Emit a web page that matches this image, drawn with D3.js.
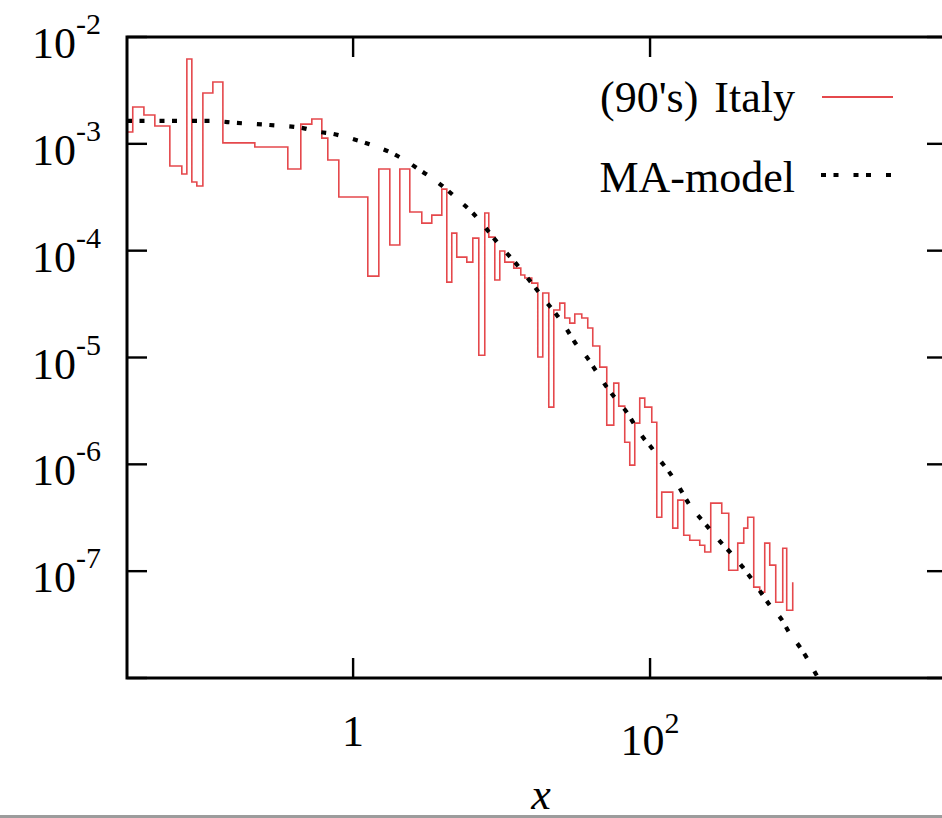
<!DOCTYPE html>
<html>
<head>
<meta charset="utf-8">
<script src="https://cdn.jsdelivr.net/npm/d3@7"></script>
<style>
  html, body { margin: 0; padding: 0; background: #fff; }
  svg { display: block; font-family: "Liberation Serif", "Times New Roman", serif; }
</style>
</head>
<body>
<script>
// ---------- data ----------
// histogram step positions (left bin edges, last entry = end of the path)
const stepX = [0.03, 0.0328, 0.0390, 0.0462, 0.0583, 0.0702, 0.0759, 0.0820, 0.0886, 0.0973,
  0.1136, 0.1327, 0.2178, 0.3633, 0.4444, 0.5271, 0.6155, 0.6755, 0.8012, 1.256,
  1.490, 1.767, 2.063, 2.409, 2.901, 3.388, 3.957, 4.276, 4.619, 4.991,
  5.832, 6.400, 7.023, 7.706, 8.199, 9.000, 9.725, 10.51, 12.08, 13.47,
  14.33, 15.97, 17.53, 18.94, 20.79, 22.47, 24.66, 26.65, 28.79, 31.12,
  34.68, 38.06, 41.13, 45.85, 51.10, 56.96, 61.54, 67.53, 73.01, 78.89,
  85.22, 92.11, 102.7, 111.0, 119.9, 142.2, 153.7, 168.6, 185.1, 216.1,
  233.6, 256.3, 304.0, 338.8, 389.6, 427.6, 454.9, 499.3, 547.9, 592.1,
  639.9, 702.3, 782.9, 832.6, 914.0];
const stepY = [1.29e-3, 2.21e-3, 1.86e-3, 1.47e-3, 6.20e-4, 5.22e-4, 6.22e-3, 4.39e-4, 4.03e-4, 2.99e-3,
  3.79e-3, 1.02e-3, 9.33e-4, 5.81e-4, 1.53e-3, 1.71e-3, 1.13e-3, 7.05e-4, 3.18e-4, 5.78e-5,
  5.81e-4, 1.13e-4, 5.81e-4, 2.30e-4, 1.81e-4, 2.15e-4, 3.77e-4, 5.08e-5, 1.46e-4, 8.71e-5,
  7.82e-5, 1.31e-4, 1.05e-5, 2.25e-4, 1.34e-4, 5.31e-5, 9.92e-5, 7.82e-5, 6.87e-5, 5.91e-5,
  5.54e-5, 4.97e-5, 1.01e-5, 4.01e-5, 3.43e-6, 2.78e-5, 3.23e-5, 2.34e-5, 2.10e-5, 2.55e-5,
  2.34e-5, 1.89e-5, 1.28e-5, 8.13e-6, 2.33e-6, 5.76e-6, 3.51e-6, 1.61e-6, 9.83e-7, 2.43e-6,
  4.17e-6, 3.43e-6, 2.48e-6, 3.20e-7, 5.49e-7, 2.53e-7, 4.62e-7, 2.17e-7, 1.95e-7, 1.75e-7,
  1.51e-7, 4.33e-7, 3.49e-7, 1.02e-7, 1.83e-7, 2.53e-7, 3.20e-7, 7.09e-8, 6.36e-8, 1.83e-7,
  1.14e-7, 5.12e-8, 1.64e-7, 4.31e-8, 7.89e-8];

// MA-model curve
const modelX = [0.03, 0.1084, 0.1647, 0.2748, 0.4513, 0.5968, 0.7302, 0.9501, 1.162, 1.513,
  1.822, 2.336, 2.813, 3.549, 4.145, 5.230, 6.300, 7.358, 8.862, 10.19,
  12.27, 13.90, 16.74, 19.54, 23.53, 26.65, 31.12, 37.47, 43.77, 51.10,
  59.69, 69.68, 78.89, 89.29, 102.7, 116.3, 131.6, 151.3, 185.1, 233.6,
  294.8, 360.6, 421.0, 484.1, 574.1, 639.9, 774.3, 863.0, 1023, 1141, 1347, 1500];
const modelY = [1.64e-3, 1.64e-3, 1.57e-3, 1.50e-3, 1.41e-3, 1.29e-3, 1.24e-3, 1.13e-3, 1.04e-3, 9.14e-4,
  8.20e-4, 6.76e-4, 5.69e-4, 4.58e-4, 3.86e-4, 2.91e-4, 2.30e-4, 1.81e-4, 1.31e-4, 1.04e-4,
  7.82e-5, 6.31e-5, 4.56e-5, 3.45e-5, 2.50e-5, 1.97e-5, 1.39e-5, 1.01e-5, 7.30e-6, 5.28e-6,
  3.99e-6, 3.08e-6, 2.33e-6, 1.80e-6, 1.42e-6, 1.10e-6, 8.82e-7, 6.67e-7, 4.15e-7, 2.81e-7,
  1.91e-7, 1.41e-7, 1.09e-7, 8.42e-8, 5.96e-8, 4.80e-8, 3.48e-8, 2.68e-8, 1.94e-8, 1.53e-8, 1.02e-8, 8.0e-9];

const yTickExps = [-2, -3, -4, -5, -6, -7, -8];
const yLabelExps = [-2, -3, -4, -5, -6, -7];
const xTickValues = [1, 100, 10000];
const xLabels = [{v: 1, base: "1", sup: ""}, {v: 100, base: "10", sup: "2"}];
const legendPrefix = "(90's)";
const seriesNames = ["Italy", "MA-model"];
const xAxisTitle = "x";

// ---------- layout ----------
const W = 942, H = 818;
const L = 127, T = 37, R = 947, B = 678;
const FS = 44, SUP = 30;
const red = "#e5484c";

const svg = d3.select("body").append("svg").attr("width", W).attr("height", H);

const x = d3.scaleLog().domain([0.03, 1e4]).range([L, R]);
const y = d3.scaleLog().domain([1e-8, 1e-2]).range([B, T]);

svg.append("defs").append("clipPath").attr("id", "clip")
  .append("rect").attr("x", L).attr("y", T).attr("width", R - L).attr("height", B - T);

const plot = svg.append("g").attr("clip-path", "url(#clip)");

// histogram
const stepData = stepX.map((d, i) => [d, stepY[i]]);
plot.append("path")
  .datum(stepData)
  .attr("fill", "none")
  .attr("stroke", red)
  .attr("stroke-width", 1.6)
  .attr("d", d3.line().x(d => x(d[0])).y(d => y(d[1])).curve(d3.curveStepAfter));

// model
const modelData = modelX.map((d, i) => [d, modelY[i]]);
const dotPattern = "5,7.5,5,15";
plot.append("path")
  .datum(modelData)
  .attr("fill", "none")
  .attr("stroke", "#000")
  .attr("stroke-width", 4.2)
  .attr("stroke-dasharray", dotPattern)
  .attr("d", d3.line().x(d => x(d[0])).y(d => y(d[1])).curve(d3.curveMonotoneX));

// ---------- axes ----------
const tickLen = 20;
const axisG = svg.append("g").attr("stroke", "#000").attr("stroke-width", 2.4);
yTickExps.forEach(e => {
  const yy = y(Math.pow(10, e));
  axisG.append("line").attr("x1", L).attr("x2", L + tickLen).attr("y1", yy).attr("y2", yy);
  axisG.append("line").attr("x1", R).attr("x2", R - tickLen).attr("y1", yy).attr("y2", yy);
});
xTickValues.forEach(v => {
  const xx = x(v);
  axisG.append("line").attr("x1", xx).attr("x2", xx).attr("y1", B).attr("y2", B - tickLen);
  axisG.append("line").attr("x1", xx).attr("x2", xx).attr("y1", T).attr("y2", T + tickLen);
});
svg.append("rect").attr("x", L).attr("y", T).attr("width", R - L).attr("height", B - T)
  .attr("fill", "none").attr("stroke", "#000").attr("stroke-width", 3);

// y labels
yLabelExps.forEach(e => {
  const yy = y(Math.pow(10, e));
  const t = svg.append("text").attr("x", 101).attr("y", yy + 21)
    .attr("text-anchor", "end").attr("font-size", FS).attr("fill", "#000");
  t.append("tspan").text("10");
  t.append("tspan").attr("dy", -24).attr("font-size", SUP).text(String(e));
});

// x labels
xLabels.forEach(d => {
  const t = svg.append("text").attr("x", x(d.v)).attr("y", d.sup ? 755 : 746)
    .attr("text-anchor", "middle").attr("font-size", FS).attr("fill", "#000");
  t.append("tspan").text(d.base);
  if (d.sup) t.append("tspan").attr("dy", -22).attr("font-size", SUP).text(d.sup);
});

svg.append("text").attr("x", 541).attr("y", 809).attr("text-anchor", "middle")
  .attr("font-size", FS).attr("font-style", "italic").text(xAxisTitle);

// ---------- legend ----------
svg.append("text").attr("x", 600).attr("y", 112).attr("font-size", FS).text(legendPrefix);
svg.append("text").attr("x", 795).attr("y", 112).attr("text-anchor", "end").attr("font-size", FS).text(seriesNames[0]);
svg.append("line").attr("x1", 822).attr("x2", 893).attr("y1", 97).attr("y2", 97)
  .attr("stroke", red).attr("stroke-width", 1.8);
svg.append("text").attr("x", 795).attr("y", 192).attr("text-anchor", "end").attr("font-size", FS).text(seriesNames[1]);
svg.append("line").attr("x1", 821).attr("x2", 893).attr("y1", 175).attr("y2", 175)
  .attr("stroke", "#000").attr("stroke-width", 4.2).attr("stroke-dasharray", dotPattern);

// bottom grey border of the picture
svg.append("rect").attr("x", 0).attr("y", 815).attr("width", W).attr("height", 3).attr("fill", "#9c9c9c");
</script>
</body>
</html>
